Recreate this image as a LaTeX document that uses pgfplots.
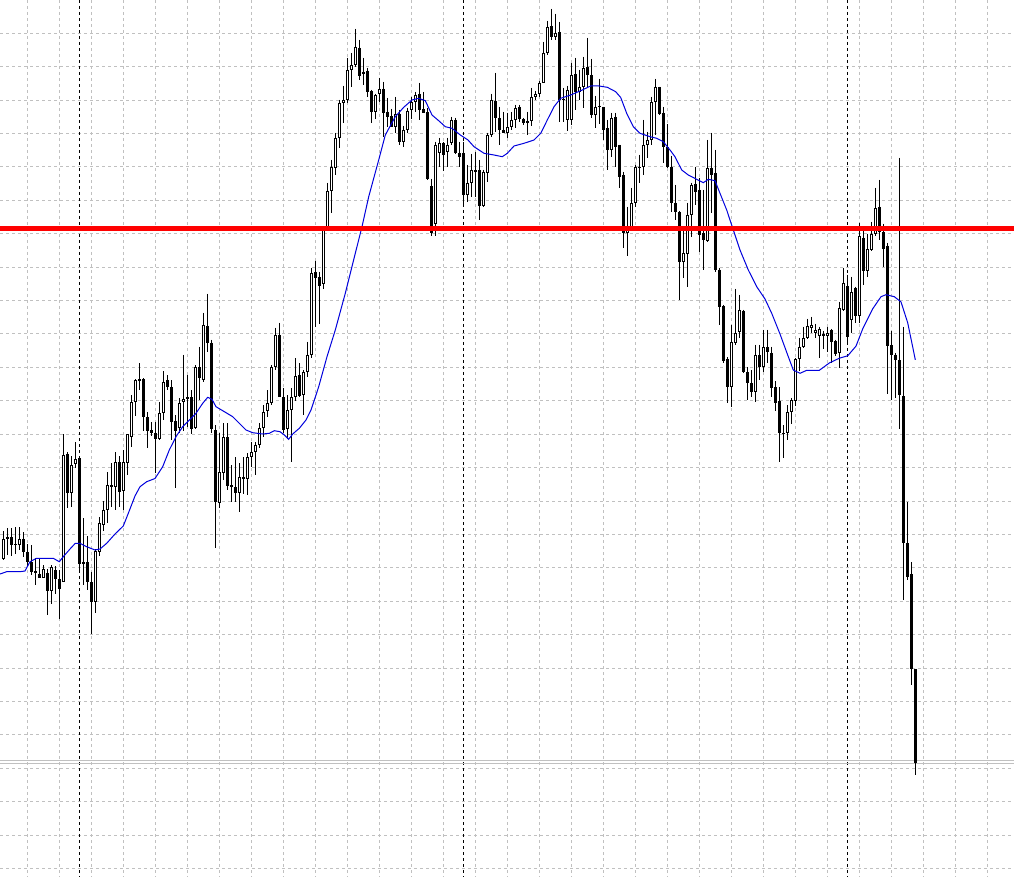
\documentclass[border=0pt]{standalone}
\usepackage{pgfplots}
\pgfplotsset{compat=1.18}
\usepackage{pgfplotstable}
\definecolor{ma}{RGB}{0,0,220}
\definecolor{gridc}{RGB}{192,192,192}
\pgfplotstableread{
k o h l c
0 559 531 560 539
1 539 528 555 537
2 537 528 556 545
3 544 527 554 544
4 545 527 550 539
5 539 532 557 552
6 552 544 567 562
7 562 545 575 572
8 571 558 585 573
9 574 559 578 578
10 578 565 578 569
11 573 569 615 591
12 591 565 604 567
13 570 566 594 579
14 579 570 619 589
15 582 434 582 455
16 454 452 508 493
17 493 456 507 465
18 464 442 468 459
19 458 456 570 564
20 564 518 585 562
21 562 536 590 582
22 582 572 634 602
23 602 549 613 551
24 552 517 556 523
25 525 501 531 510
26 510 472 523 485
27 485 463 507 487
28 487 452 510 462
29 462 456 507 492
30 491 450 510 462
31 463 434 475 434
32 437 395 447 402
33 402 379 416 380
34 381 363 390 379
35 379 378 431 417
36 417 412 448 431
37 430 422 436 433
38 433 422 473 439
39 439 402 440 413
40 413 371 420 382
41 380 375 390 387
42 387 380 440 422
43 421 415 488 431
44 428 398 433 403
45 402 355 431 399
46 399 375 427 397
47 397 390 434 429
48 428 365 429 367
49 367 347 400 378
50 380 313 382 325
51 326 294 352 343
52 343 340 433 429
53 430 425 548 502
54 503 433 508 472
55 473 423 480 437
56 437 423 490 486
57 485 465 502 487
58 487 457 502 493
59 493 463 512 477
60 477 457 494 479
61 479 453 495 457
62 457 442 467 452
63 452 442 475 445
64 445 423 448 428
65 428 405 437 412
66 411 390 417 403
67 403 365 405 367
68 367 328 370 335
69 335 323 397 397
70 397 388 433 430
71 429 395 439 410
72 410 388 462 397
73 397 358 401 376
74 375 363 397 396
75 395 370 415 372
76 372 342 377 355
77 355 268 358 273
78 272 261 327 278
79 277 272 324 286
80 284 227 289 228
81 228 183 229 191
82 191 160 213 167
83 168 133 175 138
84 138 100 148 103
85 103 86 123 100
86 100 58 103 70
87 70 53 87 65
88 65 29 67 47
89 48 40 80 76
90 74 58 85 72
91 71 68 97 92
92 91 90 123 112
93 112 94 119 95
94 94 78 102 89
95 89 82 137 113
96 112 98 127 117
97 116 109 127 127
98 127 97 133 114
99 114 110 145 142
100 142 126 147 130
101 130 108 133 111
102 110 97 119 102
103 102 92 112 95
104 94 83 120 110
105 109 92 113 113
106 112 108 180 179
107 186 179 236 233
108 224 142 236 145
109 153 138 167 143
110 143 142 171 155
111 152 138 167 145
112 143 117 145 120
113 120 118 154 153
114 153 142 167 157
115 153 142 205 195
116 195 165 202 183
117 183 154 197 170
118 170 152 197 172
119 170 160 220 206
120 206 170 207 172
121 173 133 182 135
122 135 94 137 100
123 101 73 132 118
124 118 107 145 130
125 130 112 133 133
126 133 113 138 127
127 127 112 130 120
128 120 105 128 108
129 107 105 122 119
130 119 118 125 123
131 123 112 135 121
132 121 88 126 97
133 97 91 100 94
134 94 81 97 83
135 83 42 83 53
136 53 21 55 27
137 26 9 40 37
138 37 14 40 33
139 32 22 122 100
140 100 88 122 99
141 120 86 131 90
142 120 63 125 75
143 74 58 110 92
144 92 70 100 87
145 87 57 108 68
146 67 38 87 75
147 75 59 118 115
148 115 96 128 107
149 106 79 124 107
150 107 107 140 130
151 128 120 170 150
152 150 113 157 118
153 117 113 167 147
154 145 145 188 177
155 175 172 248 233
156 233 207 256 226
157 227 188 228 203
158 203 165 207 167
159 167 155 183 167
160 167 120 175 145
161 145 132 158 140
162 140 97 145 102
163 102 79 135 87
164 87 87 115 114
165 113 107 163 147
166 147 124 168 167
167 167 156 212 203
168 203 185 220 212
169 212 211 300 262
170 262 230 278 253
171 254 203 287 215
172 215 183 237 185
173 184 167 205 192
174 190 178 252 235
175 233 190 270 240
176 241 140 242 168
177 168 133 213 175
178 173 150 272 270
179 270 268 325 307
180 306 305 363 361
181 359 357 403 387
182 387 325 407 342
183 343 289 345 333
184 332 295 338 310
185 311 310 373 372
186 372 367 400 383
187 383 370 397 392
188 392 345 402 355
189 355 345 380 367
190 367 330 372 347
191 347 330 363 352
192 353 347 397 388
193 387 381 411 403
194 401 387 462 433
195 434 425 458 433
196 433 405 440 412
197 412 398 424 400
198 401 358 406 359
199 359 338 371 347
200 347 327 348 338
201 338 319 339 326
202 328 317 333 325
203 333 324 338 330
204 336 327 358 329
205 334 331 349 336
206 336 327 352 333
207 330 329 363 342
208 341 340 356 354
209 353 302 368 308
210 310 268 311 283
211 286 275 343 337
212 320 277 333 292
213 288 287 323 316
214 316 223 323 236
215 238 228 285 271
216 271 234 277 249
217 250 222 251 234
218 234 188 236 208
219 207 180 240 232
220 232 224 267 249
221 246 243 394 346
222 345 331 400 355
223 355 353 398 360
224 360 158 429 395
225 396 327 600 543
226 543 502 580 577
227 574 562 685 669
228 669 669 775 763
}\candles
\pgfplotsset{
  candlebar/.style={only marks, mark=*, mark size=0pt,
    mark options={draw=none, fill=none},
    error bars/.cd, y dir=plus, y explicit, error mark=none},
}
\begin{document}
\begin{tikzpicture}
\begin{axis}[
  at={(0pt,0pt)}, anchor=south west,
  scale only axis, width=760.5pt, height=657.75pt,
  xmin=0, xmax=1014, ymin=0, ymax=877, y dir=reverse,
  axis line style={draw=none},
  xtick={27.5,59.5,...,1000}, ytick={33.4,66.8,...,870},
  xticklabels={}, yticklabels={},
  major tick length=0pt,
  grid=major,
  grid style={draw=gridc, line width=0.75pt, dash pattern=on 2.25pt off 2.25pt},
]
% day separators
\addplot[black, line width=0.75pt, dash pattern=on 2.25pt off 2.25pt] coordinates {(79.5,0) (79.5,877)};
\addplot[black, line width=0.75pt, dash pattern=on 2.25pt off 2.25pt] coordinates {(463.5,0) (463.5,877)};
\addplot[black, line width=0.75pt, dash pattern=on 2.25pt off 2.25pt] coordinates {(847.5,0) (847.5,877)};
% price lines
\addplot[gridc, line width=0.75pt] coordinates {(0,760.5) (1014,760.5)};
\addplot[gridc, line width=0.75pt] coordinates {(0,763.5) (1014,763.5)};
% wicks
\addplot[black, candlebar,
  error bar style={line width=0.75pt, black, solid}]
  table[x expr=4*\thisrow{k}+3.5, y=h, y error plus expr=\thisrow{l}-\thisrow{h}] {\candles};
% bodies
\addplot[black, candlebar,
  error bar style={line width=2.25pt, black, solid}]
  table[x expr=4*\thisrow{k}+3.5, y expr={min(\thisrow{o},\thisrow{c})},
        y error plus expr={max(abs(\thisrow{o}-\thisrow{c}),1)}] {\candles};
% white interiors of bullish bodies
\addplot[white, candlebar,
  error bar style={line width=0.75pt, white, solid}]
  table[x expr=4*\thisrow{k}+3.5, y expr={min(\thisrow{o},\thisrow{c})+1},
        y error plus expr={(\thisrow{o}>\thisrow{c})*max(\thisrow{o}-\thisrow{c}-2,0)}] {\candles};
% moving average
\addplot[ma, line width=0.75pt] coordinates {
(0,574) (6.7,571.7) (20,571.7) (25,571) (30,561.7) (36.7,558.3) (53.3,558.3) (59.3,561.7) (63.3,556.7) (70,549) (75.3,543.3) (80,543.3) (86.7,546.7) (95,550) (100,549) (106.7,543.3) (115,534) (123.3,526) (128.3,513.3) (135,496) (140,486.7) (146.7,481.7) (155,478.5) (162.7,466.7) (169.3,450) (176,436.7) (182.7,426.7) (189.3,420) (196,413.3) (202.7,403.3) (207.7,397.3) (212,399.3) (216,406.7) (222.7,410.7) (232.7,416.7) (241,425) (246,430) (252.7,432.7) (262.7,434) (269.3,433.3) (274.3,430.7) (280,431.7) (284.3,435) (288.7,439.3) (292.7,434) (299.3,428.3) (306,420) (311,410) (316,395) (318.7,386.7) (327,356.7) (335.3,330) (345.3,293.3) (355.3,253.3) (362,226.7) (368.7,196.7) (378.7,160) (385.3,135) (395.3,116.7) (403.7,107.3) (412,100) (418.7,98.3) (425.3,100.7) (432,115) (438.7,120.7) (445.3,126.7) (452,128.3) (460.3,135) (468,140) (474,146.7) (484,153.3) (494,155) (502.3,156.7) (507.3,153.3) (514,146) (524,143.3) (534,140) (540.7,133.3) (547.3,120) (554,106.7) (560.7,98.3) (570.7,95) (580.7,90.7) (590.7,86) (599,86) (607.3,87.3) (615.7,91.7) (620.7,97.5) (626.7,113.3) (633.3,126.7) (640,133.3) (650,136.7) (656.7,138.3) (663.3,141.7) (670,150) (675,156.7) (681.7,170) (688.3,175) (696.7,179.3) (703.3,182.7) (708.3,179.3) (715,180.7) (720,193.3) (726.7,210) (733.3,230) (740,250) (748.3,270) (756.7,286.7) (765,299) (771.7,313.3) (780,334) (788.3,356.7) (793.3,370) (800,373.3) (806.7,370.3) (819.3,370.3) (829.3,363) (839.3,358.2) (847.7,355.8) (856,346.1) (862.7,328.9) (872.7,308.8) (881,296.7) (886,294.7) (894.3,296.7) (901,301.9) (907.7,322.8) (912.7,347) (915.3,359.8)
};
% horizontal level
\addplot[red, line width=3.75pt] coordinates {(0,228.3) (1014,228.3)};
\end{axis}
\pgfresetboundingbox
\path[use as bounding box] (0pt,0pt) rectangle (760.5pt,657.75pt);
\end{tikzpicture}
\end{document}
